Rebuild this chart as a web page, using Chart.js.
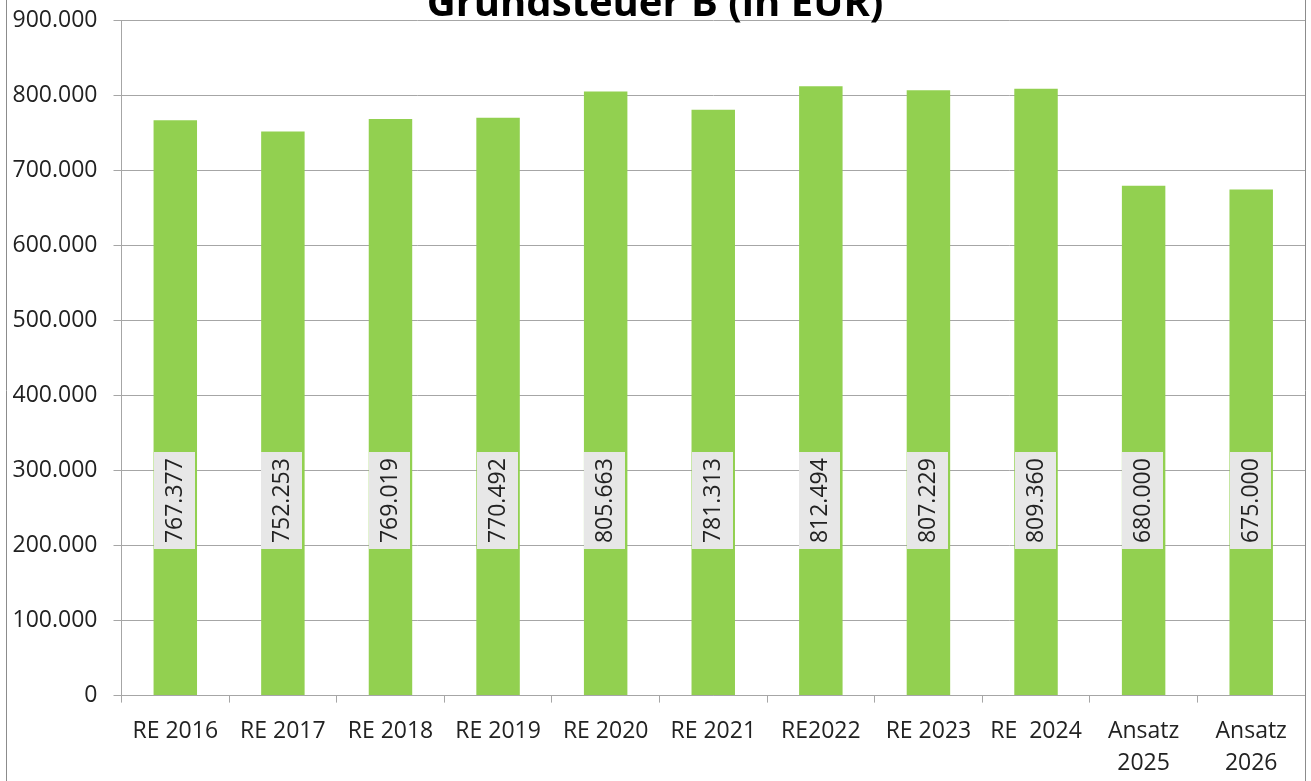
<!DOCTYPE html>
<html>
<head>
<meta charset="utf-8">
<script src="https://cdn.jsdelivr.net/npm/chart.js@4/dist/chart.umd.min.js"></script>
<style>
  html, body { margin: 0; padding: 0; background: #ffffff; }
  #wrap { width: 1311px; height: 781px; overflow: hidden; }
  canvas { display: block; }
</style>
</head>
<body>
<div id="wrap"><canvas id="c" width="1311" height="781"></canvas></div>
<script>
// ---- data ----
const titleText = 'Grundsteuer B (in EUR)';
const categories = ['RE 2016', 'RE 2017', 'RE 2018', 'RE 2019', 'RE 2020', 'RE 2021', 'RE2022', 'RE 2023', 'RE  2024', ['Ansatz', '2025'], ['Ansatz', '2026']];
const values = [767377, 752253, 769019, 770492, 805663, 781313, 812494, 807229, 809360, 680000, 675000];
const yTickValues = [0, 100000, 200000, 300000, 400000, 500000, 600000, 700000, 800000, 900000];

// ---- helpers ----
function fmtDE(v) {
  const s = Math.round(v).toString();
  return s.replace(/\B(?=(\d{3})+(?!\d))/g, '.');
}

const FONT = "'Open Sans', 'DejaVu Sans', sans-serif";
const GRID = '#A6A6A6';
const TEXT = '#222222';
const LABEL_CENTER_VALUE = 260000; // where the value boxes sit (centre, in axis units)

const decorPlugin = {
  id: 'decor',
  afterDraw(chart) {
    const ctx = chart.ctx;
    ctx.save();
    ctx.strokeStyle = '#8C8C8C';
    ctx.lineWidth = 1;
    ctx.beginPath();
    ctx.moveTo(6.5, 0); ctx.lineTo(6.5, 781);
    ctx.moveTo(1305.5, 0); ctx.lineTo(1305.5, 781);
    ctx.stroke();
    ctx.fillStyle = '#000000';
    ctx.font = "bold 40px " + FONT;
    ctx.textAlign = 'center';
    ctx.textBaseline = 'alphabetic';
    ctx.fillText(titleText, 655, 16);
    const meta = chart.getDatasetMeta(0);
    const yScale = chart.scales.y;
    const cy = yScale.getPixelForValue(LABEL_CENTER_VALUE);
    ctx.font = "23px " + FONT;
    meta.data.forEach((bar, i) => {
      const txt = fmtDE(values[i]);
      const tw = ctx.measureText(txt).width;
      const bw = 41, bh = tw + 12;
      const cx = bar.x - 1;
      ctx.fillStyle = '#E7E7E7';
      ctx.fillRect(Math.round(cx - bw / 2), Math.round(cy - bh / 2), bw, Math.round(bh));
      ctx.save();
      ctx.translate(cx, cy);
      ctx.rotate(-Math.PI / 2);
      ctx.fillStyle = TEXT;
      ctx.textAlign = 'center';
      ctx.textBaseline = 'middle';
      ctx.fillText(txt, 0, 1);
      ctx.restore();
    });
    ctx.restore();
  }
};

new Chart(document.getElementById('c'), {
  type: 'bar',
  data: {
    labels: categories,
    datasets: [{
      data: values,
      backgroundColor: '#92D050',
      borderWidth: 0,
      categoryPercentage: 1.0,
      barPercentage: 0.404
    }]
  },
  options: {
    responsive: false,
    animation: false,
    devicePixelRatio: 1,
    layout: { padding: { left: 0, right: 6, top: 20.7, bottom: 0 } },
    plugins: { legend: { display: false }, title: { display: false }, tooltip: { enabled: false } },
    scales: {
      x: {
        grid: { display: true, offset: true, drawOnChartArea: false, drawTicks: true, tickLength: 7, color: GRID },
        border: { display: true, color: GRID },
        ticks: { font: { family: FONT, size: 23, lineHeight: 1.38 }, color: TEXT, padding: 13, maxRotation: 0, autoSkip: false },
        afterFit(s) { s.height = 781 - 695.6; }
      },
      y: {
        min: 0, max: 900000,
        afterBuildTicks(s) { s.ticks = yTickValues.map(v => ({ value: v })); },
        ticks: { callback: v => fmtDE(v), padding: 16, font: { family: FONT, size: 23, lineHeight: 1.0 }, color: TEXT },
        grid: { color: GRID, tickLength: 8, lineWidth: 1 },
        border: { display: true, color: GRID },
        afterFit(s) { s.width = 121.5; s.paddingTop = 0; s.paddingBottom = 0; }
      }
    }
  },
  plugins: [decorPlugin]
});
</script>
</body>
</html>
